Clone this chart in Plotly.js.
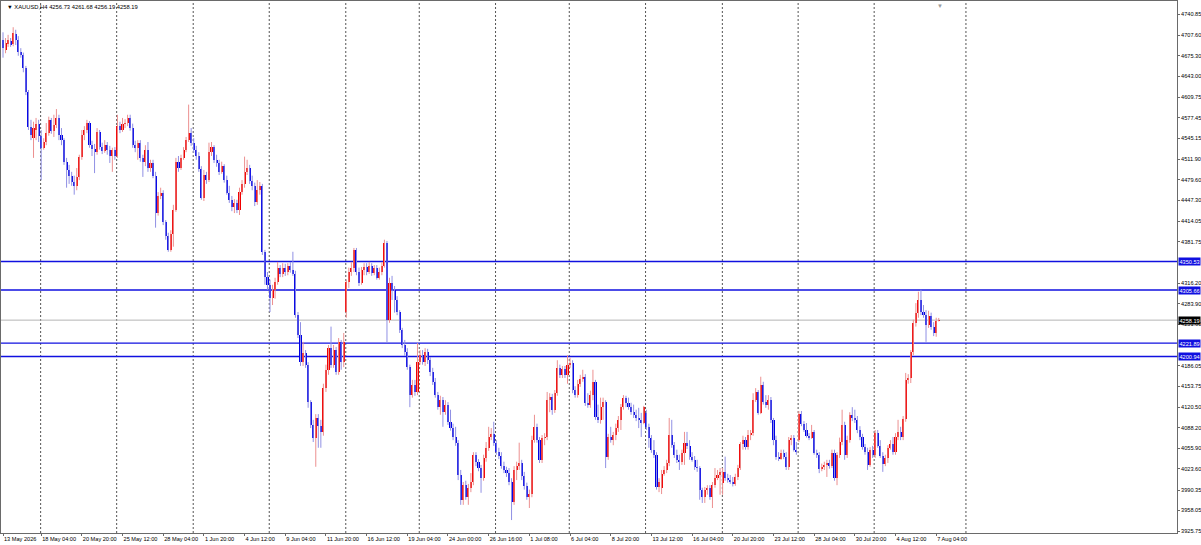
<!DOCTYPE html>
<html>
<head>
<meta charset="utf-8">
<script src="https://cdn.plot.ly/plotly-3.0.1.min.js"></script>
<style>
html,body{margin:0;padding:0;background:#ffffff;}
#chart{width:1201px;height:545px;}
</style>
</head>
<body>
<div id="chart"></div>
<script>
// ---------------- DATA (XAUUSD H4) ----------------
const symbol = "XAUUSD,H4";

const opens = [
4700,4684,4694,4698,4694,4709,4700,4681,4676,4656,
4618,4563,4545,4558,4568,4549,4530,4539,4553,4574,
4557,4566,4577,4550,4542,4508,4495,4486,4476,4470,
4484,4516,4550,4558,4569,4534,4528,4523,4555,4531,
4525,4534,4527,4517,4527,4517,4564,4558,4568,4569,
4577,4561,4534,4530,4538,4514,4508,4527,4498,4506,
4486,4427,4454,4459,4413,4391,4369,4394,4432,4508,
4498,4514,4527,4542,4553,4538,4527,4517,4497,4451,
4487,4479,4523,4531,4511,4506,4492,4501,4479,4459,
4448,4437,4443,4432,4460,4473,4492,4498,4478,4470,
4445,4463,4470,4366,4326,4314,4293,4306,4318,4341,
4331,4341,4334,4344,4337,4331,4266,4235,4192,4207,
4188,4129,4093,4073,4104,4091,4082,4151,4180,4214,
4188,4211,4177,4224,4192,4271,4318,4334,4341,4369,
4334,4317,4337,4342,4334,4344,4333,4341,4325,4334,
4344,4380,4259,4317,4306,4290,4271,4243,4219,4208,
4184,4140,4156,4145,4192,4203,4192,4208,4195,4177,
4161,4140,4121,4132,4113,4125,4098,4088,4074,4065,
4014,3975,3998,3979,3994,4003,4046,4035,4025,4009,
4041,4057,4074,4079,4065,4050,4044,4028,4022,4017,
4003,3972,4022,4028,4033,4013,3997,3979,3984,4069,
4090,4069,4038,4073,4074,4132,4137,4117,4143,4183,
4172,4181,4172,4188,4191,4148,4140,4158,4166,4169,
4128,4125,4140,4161,4106,4101,4121,4129,4043,4074,
4069,4077,4088,4101,4121,4136,4128,4121,4113,4109,
4104,4100,4096,4112,4090,4073,4054,4046,3995,3994,
4016,4022,4033,4077,4061,4046,4038,4035,4049,4065,
4060,4043,4038,4027,4025,3991,3979,3991,3994,3979,
3998,4009,4014,4002,4019,4009,4006,4003,4000,4011,
4025,4063,4069,4058,4077,4080,4132,4145,4112,4156,
4129,4125,4132,4101,4069,4043,4040,4049,4043,4027,
4069,4073,4054,4069,4110,4095,4085,4076,4073,4082,
4049,4046,4024,4027,4030,4033,4028,4049,4009,4046,
4066,4093,4046,4069,4109,4104,4101,4085,4074,4058,
4050,4030,4054,4046,4080,4060,4044,4031,4041,4057,
4063,4050,4074,4082,4074,4102,4164,4167,4208,4254,
4270,4290,4271,4267,4251,4265,4248,4238,4256.73
];

const highs = [
4712,4703,4708,4703,4720,4716,4706,4687,4680,4659,
4621,4574,4571,4577,4574,4558,4545,4569,4579,4577,
4582,4591,4582,4561,4545,4514,4503,4492,4486,4498,
4519,4558,4564,4574,4572,4541,4536,4561,4558,4538,
4542,4539,4533,4530,4531,4582,4571,4577,4575,4582,
4582,4568,4541,4542,4542,4519,4534,4539,4511,4511,
4492,4460,4467,4463,4416,4396,4400,4440,4514,4517,
4519,4531,4547,4598,4561,4545,4533,4523,4501,4495,
4492,4538,4539,4534,4519,4511,4508,4504,4486,4470,
4454,4449,4448,4467,4479,4516,4511,4503,4486,4475,
4479,4476,4473,4369,4334,4322,4314,4325,4350,4345,
4348,4347,4348,4350,4366,4336,4271,4255,4224,4211,
4192,4132,4101,4110,4110,4101,4158,4188,4219,4248,
4219,4216,4230,4227,4238,4322,4341,4350,4372,4372,
4341,4342,4348,4348,4350,4348,4345,4345,4341,4350,
4385,4383,4325,4328,4312,4296,4274,4246,4227,4214,
4188,4164,4164,4222,4211,4211,4214,4213,4200,4183,
4167,4145,4139,4137,4132,4129,4117,4095,4090,4069,
4022,4003,4005,4000,4017,4050,4050,4039,4030,4046,
4066,4090,4088,4098,4069,4057,4050,4035,4027,4025,
4009,4028,4035,4065,4038,4019,4002,3991,4076,4109,
4095,4074,4077,4080,4145,4143,4142,4148,4195,4188,
4186,4186,4203,4199,4195,4154,4164,4172,4180,4173,
4143,4147,4180,4164,4125,4136,4136,4132,4079,4090,
4082,4095,4107,4126,4140,4139,4136,4128,4125,4117,
4120,4112,4123,4117,4095,4077,4069,4050,4009,4022,
4028,4038,4104,4101,4066,4054,4046,4054,4082,4082,
4069,4050,4044,4038,4028,3994,3995,3998,3998,4003,
4025,4022,4025,4025,4043,4016,4014,4011,4016,4030,
4066,4076,4074,4085,4085,4143,4151,4148,4169,4161,
4140,4140,4137,4104,4076,4050,4054,4054,4050,4074,
4077,4077,4066,4115,4115,4099,4096,4080,4093,4085,
4054,4050,4032,4035,4038,4038,4054,4054,4050,4073,
4117,4098,4076,4113,4121,4117,4107,4091,4079,4063,
4057,4058,4060,4085,4085,4069,4050,4046,4061,4069,
4074,4080,4101,4090,4107,4175,4173,4211,4259,4285,
4303,4306,4282,4274,4273,4270,4255,4262,4261.68
];

const lows = [
4672,4679,4689,4689,4690,4692,4675,4672,4649,4613,
4558,4542,4514,4542,4539,4479,4527,4534,4549,4552,
4547,4561,4542,4534,4503,4467,4473,4470,4456,4463,
4479,4511,4542,4553,4530,4517,4490,4519,4527,4520,
4522,4519,4506,4492,4511,4514,4553,4555,4561,4564,
4557,4530,4523,4511,4508,4484,4501,4492,4492,4482,
4404,4423,4449,4408,4385,4366,4366,4374,4429,4492,
4495,4511,4523,4539,4533,4522,4511,4492,4448,4446,
4473,4476,4517,4506,4500,4487,4489,4475,4456,4443,
4430,4427,4427,4424,4456,4467,4487,4473,4463,4438,
4440,4456,4361,4314,4306,4271,4282,4292,4314,4326,
4326,4328,4329,4333,4328,4262,4230,4186,4186,4183,
4120,4088,4066,4027,4057,4057,4076,4145,4172,4183,
4183,4172,4172,4180,4184,4262,4309,4328,4334,4329,
4312,4314,4329,4329,4331,4328,4329,4322,4322,4329,
4341,4222,4254,4290,4270,4266,4238,4214,4202,4180,
4121,4136,4139,4140,4188,4188,4186,4189,4170,4156,
4136,4117,4109,4090,4109,4093,4084,4069,4060,4006,
3967,3967,3975,3967,3987,3998,4028,4020,3986,4005,
4035,4052,4069,4060,4046,4039,4024,4017,4011,3998,
3943,3967,4006,4022,4006,3991,3975,3962,3979,4065,
4065,4033,4033,4061,4069,4113,4109,4112,4139,4167,
4167,4167,4158,4183,4143,4136,4136,4153,4161,4123,
4120,4120,4132,4101,4096,4095,4101,4025,4038,4065,
4061,4069,4082,4085,4117,4121,4117,4109,4104,4099,
4088,4074,4094,4085,4057,4049,4041,3991,3987,3984,
4013,4017,4028,4057,4041,4033,4022,4030,4030,4055,
4038,4035,4022,4019,3975,3970,3970,3983,3975,3962,
3994,4006,3983,3983,4005,4002,4000,3996,3997,4006,
4022,4054,4054,4054,4069,4076,4129,4109,4110,4125,
4120,4117,4096,4061,4038,4036,4038,4039,4022,4022,
4061,4051,4046,4066,4091,4082,4073,4069,4071,4046,
4041,4017,4020,4022,4011,4024,4025,4005,3998,4041,
4061,4038,4041,4065,4099,4096,4080,4069,4054,4046,
4022,4027,4041,4041,4057,4041,4019,4028,4033,4054,
4046,4046,4069,4069,4069,4098,4158,4159,4203,4248,
4262,4266,4262,4224,4246,4243,4233,4232,4256.19
];

const closes = [
4687,4695,4700,4692,4711,4700,4681,4676,4656,4618,
4563,4550,4561,4568,4549,4530,4539,4553,4574,4557,
4566,4577,4550,4542,4508,4495,4486,4476,4470,4484,
4516,4550,4558,4569,4534,4528,4523,4555,4531,4525,
4534,4527,4517,4527,4517,4564,4558,4568,4569,4577,
4561,4534,4530,4538,4514,4508,4527,4498,4506,4486,
4427,4454,4459,4413,4391,4369,4394,4432,4508,4498,
4514,4527,4542,4553,4538,4527,4517,4497,4451,4487,
4479,4523,4531,4511,4506,4492,4501,4479,4459,4448,
4437,4443,4432,4460,4473,4492,4498,4478,4470,4445,
4463,4470,4366,4326,4314,4293,4306,4318,4341,4331,
4341,4334,4344,4337,4331,4266,4235,4192,4207,4188,
4129,4093,4073,4104,4091,4082,4151,4180,4214,4188,
4211,4177,4224,4192,4224,4318,4334,4341,4369,4334,
4317,4337,4342,4334,4344,4333,4341,4325,4334,4344,
4380,4259,4317,4306,4290,4271,4243,4219,4208,4184,
4140,4156,4145,4192,4203,4192,4208,4195,4177,4161,
4140,4121,4132,4113,4125,4098,4088,4074,4065,4014,
3975,3998,3979,3994,4003,4046,4035,4025,4009,4041,
4057,4074,4079,4065,4050,4044,4028,4022,4017,4003,
3972,4022,4028,4033,4013,3997,3979,3984,4069,4090,
4069,4038,4073,4074,4132,4137,4117,4143,4183,4172,
4181,4172,4188,4191,4148,4140,4158,4166,4169,4128,
4125,4140,4161,4106,4101,4121,4129,4043,4074,4069,
4077,4088,4101,4121,4136,4128,4121,4113,4109,4104,
4100,4096,4121,4090,4073,4054,4046,3995,4003,4016,
4022,4033,4077,4061,4046,4038,4035,4049,4065,4060,
4043,4038,4027,4025,3991,3979,3991,3994,3979,3998,
4009,4014,4019,4019,4009,4006,4003,4000,4011,4025,
4063,4069,4058,4077,4080,4132,4145,4112,4156,4129,
4125,4132,4101,4069,4043,4040,4049,4043,4027,4069,
4073,4054,4050,4110,4095,4085,4076,4073,4082,4049,
4046,4024,4027,4030,4033,4028,4049,4009,4046,4066,
4093,4046,4069,4109,4104,4101,4085,4074,4058,4050,
4030,4054,4046,4080,4060,4044,4031,4041,4057,4063,
4050,4074,4082,4074,4102,4164,4167,4208,4254,4270,
4290,4271,4267,4251,4265,4248,4238,4257,4258.19
];

// bar-index positions of the time labels and their text
const xTickIdx = [0,15,31,47,63,79,95,111,127,143,159,175,191,207,223,239,255,271,287,303,319,335,351,367];
const xTickText = ["13 May 2026","18 May 04:00","20 May 20:00","25 May 12:00","28 May 04:00","1 Jun 20:00",
  "4 Jun 12:00","9 Jun 04:00","11 Jun 20:00","16 Jun 12:00","19 Jun 04:00","24 Jun 00:00","26 Jun 16:00",
  "1 Jul 08:00","6 Jul 04:00","8 Jul 20:00","13 Jul 12:00","16 Jul 04:00","20 Jul 20:00","23 Jul 12:00",
  "28 Jul 04:00","30 Jul 20:00","4 Aug 12:00","7 Aug 04:00"];

// price scale labels
const yTickVals = [4740.85,4707.60,4675.30,4643.00,4609.75,4577.45,4545.15,4511.90,4479.60,4447.30,
  4414.05,4381.75,4316.20,4283.90,4251.60,4186.05,4153.75,4120.50,4088.20,4055.90,4023.60,3990.35,3958.05,3925.75];

// horizontal levels and current bid
const levels = [4350.53, 4305.66, 4221.89, 4200.94];
const currentPrice = 4258.19;

// week separators (bar index units)
const weekSeparators = [14.8,44.7,74.8,104.7,134.8,163.7,193.7,222.7,252.7,282.9,312.7,342.6,378.7];

// ---------------- DRAWING ----------------
const n = closes.length;
const idx = closes.map((_, i) => i);
const upBody = '#f00000', downBody = '#0000e6';
const upWick = '#ec9090', downWick = '#9090e4';

function wickData(up) {
  const x = [], y = [];
  for (let i = 0; i < n; i++) {
    if ((closes[i] >= opens[i]) === up) {
      x.push(i, i, null);
      y.push(lows[i], highs[i], null);
    }
  }
  return {x, y};
}
const wu = wickData(true), wd = wickData(false);

const traces = [
  {type:'scatter', mode:'lines', x:wd.x, y:wd.y, line:{color:downWick, width:1}, hoverinfo:'skip', connectgaps:false},
  {type:'scatter', mode:'lines', x:wu.x, y:wu.y, line:{color:upWick, width:1}, hoverinfo:'skip', connectgaps:false},
  {type:'bar', x:idx, y:idx.map(i => closes[i] - opens[i]), base:opens, width:0.82,
   marker:{color:idx.map(i => closes[i] >= opens[i] ? upBody : downBody), line:{width:0}}, hoverinfo:'skip'}
];

const font = 'Liberation Sans, Arial, sans-serif';
const shapes = [];
weekSeparators.forEach(s => shapes.push({type:'line', xref:'x', yref:'paper', x0:s, x1:s, y0:0, y1:1,
  layer:'below', line:{color:'#555555', width:1, dash:'2px,2px'}}));
shapes.push({type:'line', xref:'paper', yref:'y', x0:0, x1:1, y0:currentPrice, y1:currentPrice,
  layer:'below', line:{color:'#b4b4b4', width:1}});
levels.forEach(l => shapes.push({type:'line', xref:'paper', yref:'y', x0:0, x1:1, y0:l, y1:l,
  layer:'below', line:{color:'#1010e0', width:1.4}}));

const annotations = [];
levels.forEach(l => annotations.push({xref:'paper', x:1, xanchor:'left', xshift:1, yref:'y', y:l,
  yanchor:'middle', text:l.toFixed(2), showarrow:false, bgcolor:'#1010e0', borderpad:0.5,
  font:{family:font, size:5.6, color:'#ffffff'}}));
annotations.push({xref:'paper', x:1, xanchor:'left', xshift:1, yref:'y', y:currentPrice, yanchor:'middle',
  text:currentPrice.toFixed(2), showarrow:false, bgcolor:'#000000', borderpad:0.5,
  font:{family:font, size:5.6, color:'#ffffff'}});
annotations.push({xref:'paper', x:0.003, xanchor:'left', yref:'paper', y:0.988, yanchor:'middle',
  text:'▼ ' + symbol + ' ' + [opens[n-1], highs[n-1], lows[n-1], closes[n-1]].map(v => v.toFixed(2)).join(' '),
  showarrow:false, font:{family:font, size:5.8, color:'#000000'}});
annotations.push({xref:'x', x:368.5, xanchor:'center', yref:'paper', y:1, yanchor:'top', text:'▼',
  showarrow:false, font:{family:font, size:6, color:'#9a9a9a'}});

const layout = {
  width:1201, height:545,
  margin:{l:1, r:24, t:1, b:12, pad:0},
  paper_bgcolor:'#ffffff', plot_bgcolor:'#ffffff',
  showlegend:false, hovermode:false, bargap:0,
  font:{family:font, size:5.6, color:'#000000'},
  xaxis:{range:[-0.79, 461.7], showgrid:false, zeroline:false, showline:true, mirror:true,
    linecolor:'#6a6a6a', linewidth:1, tickmode:'array', tickvals:xTickIdx, ticktext:xTickText,
    ticks:'outside', ticklen:2, tickwidth:1, tickcolor:'#6a6a6a', ticklabelposition:'outside right',
    tickangle:0, ticklabelstandoff:0,
    tickfont:{family:font, size:5.6, color:'#000000'}, fixedrange:true},
  yaxis:{range:[3922.6, 4761.35], side:'right', showgrid:false, zeroline:false, showline:true, mirror:true,
    linecolor:'#6a6a6a', linewidth:1, tickmode:'array', tickvals:yTickVals,
    ticktext:yTickVals.map(v => v.toFixed(2)), ticks:'outside', ticklen:2, tickwidth:1, tickcolor:'#6a6a6a',
    tickfont:{family:font, size:5.6, color:'#000000'}, fixedrange:true},
  shapes:shapes,
  annotations:annotations
};

Plotly.newPlot('chart', traces, layout, {staticPlot:true, displayModeBar:false});
</script>
</body>
</html>
